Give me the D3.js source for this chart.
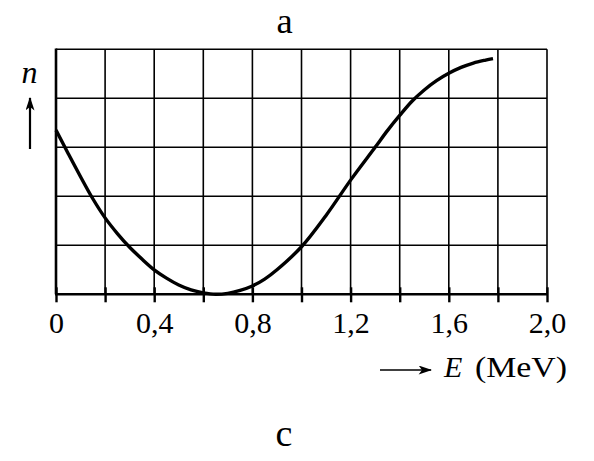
<!DOCTYPE html>
<html>
<head>
<meta charset="utf-8">
<script src="https://cdn.jsdelivr.net/npm/d3@7"></script>
<style>
  body { margin: 0; background: #fff; }
  svg text { font-family: "Liberation Serif", "Times New Roman", serif; fill: #000; }
</style>
</head>
<body>
<div id="container"></div>
<script>
const width = 594;
const height = 461;

// DATA
const energy = [0, 0.05, 0.1, 0.15, 0.2, 0.25, 0.3, 0.35, 0.4, 0.45, 0.5, 0.55, 0.6, 0.65, 0.7, 0.75, 0.8, 0.85, 0.9, 1.0, 1.1, 1.2, 1.3, 1.35, 1.4, 1.45, 1.5, 1.55, 1.6, 1.65, 1.7, 1.75, 1.78];
const count  = [3.35, 2.87, 2.4, 1.95, 1.56, 1.24, 0.96, 0.72, 0.5, 0.33, 0.19, 0.09, 0.03, 0.0, 0.02, 0.08, 0.17, 0.31, 0.5, 0.97, 1.61, 2.33, 3.0, 3.34, 3.65, 3.94, 4.17, 4.36, 4.51, 4.63, 4.72, 4.78, 4.81];
const xTicks = [0, 0.2, 0.4, 0.6, 0.8, 1.0, 1.2, 1.4, 1.6, 1.8, 2.0];
const yGrid  = [1, 2, 3, 4, 5];
const title = "a";
const caption = "c";

const svg = d3.select("div#container").append("svg")
    .attr("width", width)
    .attr("height", height);

// SCALES
const xScale = d3.scaleLinear().domain([0, 2]).range([56, 547]);
const yScale = d3.scaleLinear().domain([0, 5]).range([294.3, 49.3]);

// GRID
svg.append("g")
    .selectAll("line")
    .data(xTicks.slice(1))
    .join("line")
    .attr("x1", d => xScale(d)).attr("x2", d => xScale(d))
    .attr("y1", yScale(0)).attr("y2", yScale(5))
    .attr("stroke", "#000").attr("stroke-width", 1.6);

svg.append("g")
    .selectAll("line")
    .data(yGrid)
    .join("line")
    .attr("x1", xScale(0)).attr("x2", xScale(2))
    .attr("y1", d => yScale(d)).attr("y2", d => yScale(d))
    .attr("stroke", "#000").attr("stroke-width", 1.6);

// AXES
const fmt = d => d === 0 ? "0" : d3.format(".1f")(d).replace(".", ",");
const xaxis = d3.axisBottom(xScale)
    .tickValues(xTicks)
    .tickSize(8)
    .tickFormat((d, i) => i % 2 === 0 ? fmt(d) : "");

const gx = svg.append("g")
    .attr("transform", "translate(0," + yScale(0) + ")")
    .call(xaxis);
gx.select(".domain").remove();
gx.selectAll(".tick line")
    .attr("y1", -7).attr("y2", 8)
    .attr("stroke", "#000").attr("stroke-width", 2.4);
gx.selectAll(".tick text")
    .attr("y", 39).attr("dy", 0)
    .style("font-size", "30px")
    .style("font-family", "'Liberation Serif', serif")
    .attr("fill", "#000");

svg.append("line")
    .attr("x1", xScale(0) - 1).attr("x2", xScale(2) + 1)
    .attr("y1", yScale(0)).attr("y2", yScale(0))
    .attr("stroke", "#000").attr("stroke-width", 2.6);

svg.append("line")
    .attr("x1", xScale(0)).attr("x2", xScale(0))
    .attr("y1", yScale(0)).attr("y2", yScale(5) - 0.8)
    .attr("stroke", "#000").attr("stroke-width", 2.6);

// CURVE
const line = d3.line()
    .x((d, i) => xScale(energy[i]))
    .y(d => yScale(d))
    .curve(d3.curveCatmullRom.alpha(0.5));

svg.append("path")
    .attr("d", line(count))
    .attr("fill", "none")
    .attr("stroke", "#000")
    .attr("stroke-width", 3.4);

// ARROW HEADS
const defs = svg.append("defs");
defs.append("marker")
    .attr("id", "head")
    .attr("viewBox", "0 0 12 8")
    .attr("refX", 11).attr("refY", 4)
    .attr("markerUnits", "userSpaceOnUse")
    .attr("markerWidth", 14).attr("markerHeight", 9)
    .attr("orient", "auto")
    .append("path")
    .attr("d", "M0,0 L12,4 L0,8 L3,4 Z")
    .attr("fill", "#000");

// LABELS
svg.append("text")
    .attr("x", 284.5).attr("y", 32.5)
    .attr("text-anchor", "middle")
    .style("font-size", "36.5px")
    .text(title);

svg.append("text")
    .attr("x", 284).attr("y", 446)
    .attr("text-anchor", "middle")
    .style("font-size", "38px")
    .text(caption);

// y label
svg.append("text")
    .attr("x", 29.5).attr("y", 83)
    .attr("text-anchor", "middle")
    .style("font-size", "32px")
    .style("font-style", "italic")
    .text("n");
svg.append("line")
    .attr("x1", 30).attr("x2", 30)
    .attr("y1", 149).attr("y2", 98)
    .attr("stroke", "#000").attr("stroke-width", 2.2)
    .attr("marker-end", "url(#head)");

// x label
svg.append("line")
    .attr("x1", 380).attr("x2", 431)
    .attr("y1", 370).attr("y2", 370)
    .attr("stroke", "#000").attr("stroke-width", 1.3)
    .attr("marker-end", "url(#head)");
svg.append("text")
    .attr("x", 444).attr("y", 377)
    .style("font-size", "30px")
    .style("font-style", "italic")
    .text("E");
svg.append("text")
    .attr("x", 475).attr("y", 377)
    .attr("textLength", 92)
    .attr("lengthAdjust", "spacingAndGlyphs")
    .style("font-size", "30px")
    .text("(MeV)");
</script>
</body>
</html>
